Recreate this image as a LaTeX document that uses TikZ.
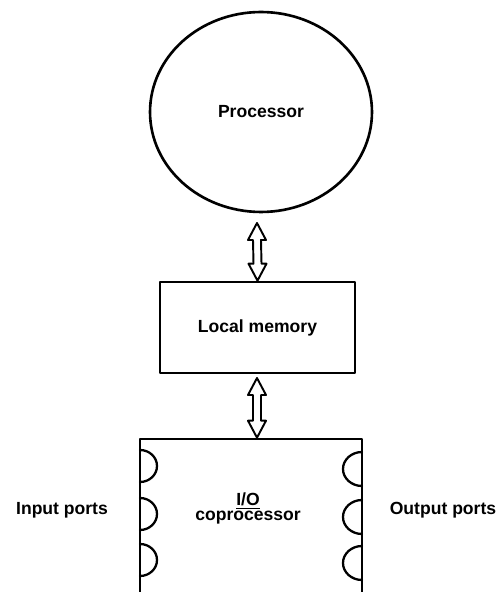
\documentclass[tikz,border=0pt]{standalone}
\usepackage{fontspec}
\setmainfont{Liberation Sans}
\usetikzlibrary{shapes.geometric,calc}
\begin{document}
\begin{tikzpicture}[x=0.02cm, y=0.02cm, font=\bfseries\fontsize{10}{12}\selectfont, line join=round, line cap=round,
  box/.style={draw, line width=1.5pt, inner sep=0pt},
  port/.style={line width=1.3pt},
  bus/.style={line width=1.1pt, to path={-- ++(9,-17) -- ++(-5,0) -- ($(\tikztotarget)+(4,17)$) -- ++(5,0) -- (\tikztotarget) -- ++(-9,17) -- ++(5,0) -- ($(\tikztostart)+(-4,-17)$) -- ++(-5,0) -- cycle}}]
\useasboundingbox (0,0) rectangle (500,592);
\node[box, ellipse, minimum width=4.44cm, minimum height=4cm] (proc) at (261,480) {Processor};
\node[box, minimum width=3.9cm, minimum height=1.82cm] (mem) at (257.5,264.5) {Local memory};
\node[box, minimum width=4.44cm, minimum height=3.1cm] (io) at (251,75.5) {};
\node[align=center] (iotext) at (248,84) {\underline{I/O}\\[-3.5pt]coprocessor};
\node (inp) at (62,82) {Input ports};
\node (outp) at (443,82) {Output ports};
% ports on the coprocessor
\foreach \y in {126,78,32}
  \draw[port] (140,\y+16) arc[start angle=90, end angle=-90, x radius=17, y radius=16];
\foreach \y in {123,75,29}
  \draw[port] (362,\y+17) arc[start angle=90, end angle=270, x radius=19, y radius=17];
% buses
\coordinate (b1) at (257,369);
\coordinate (b2) at (257,214);
\draw[bus] (b1) to (mem.north);
\draw[bus] (b2) to (b2 |- io.north);
\end{tikzpicture}
\end{document}
